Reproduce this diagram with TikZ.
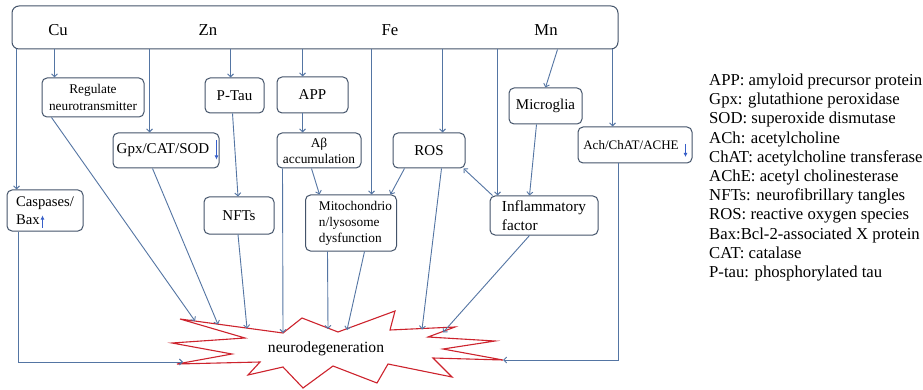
\documentclass[tikz,border=0pt]{standalone}
\usepackage{fontspec}
\setmainfont{Liberation Serif}
\usetikzlibrary{calc,arrows.meta}
\definecolor{conn}{RGB}{84,117,163}
\definecolor{boxc}{RGB}{68,84,106}
\definecolor{starc}{RGB}{205,35,45}
\definecolor{upc}{RGB}{55,95,200}
\begin{document}
\begin{tikzpicture}[x=1pt,y=-1pt,
  box/.style={draw=boxc,line width=1pt,rounded corners=5pt,inner sep=0pt,align=center,font=\fontsize{15}{17}\selectfont},
  sz/.style 2 args={minimum width=#1pt,minimum height=#2pt},
  small/.style={font=\fontsize{13.3}{16.5}\selectfont},
  lab/.style={inner sep=0pt,font=\fontsize{16.7}{19}\selectfont},
  arr/.style={draw=conn,line width=0.9pt,-{Straight Barb[length=3pt,width=6pt]}},
  updown/.style={draw=upc,line width=0.9pt,-{Latex[length=4pt,width=4pt]}},
  legend/.style={anchor=base west,inner sep=0pt,font=\fontsize{16.7}{19}\selectfont}]
\useasboundingbox (0,0) rectangle (923,390);
\fill[white] (0,0) rectangle (923,390);

% top box with metals
\node[box,sz={606}{43},rounded corners=7pt] (top) at (315,27.5) {};
\node[lab] (cu) at (58,30.5) {Cu};
\node[lab] (zn) at (208,30.5) {Zn};
\node[lab] (fe) at (390,30.5) {Fe};
\node[lab] (mn) at (546,30.5) {Mn};

% boxes
\node[box,small,sz={102}{39}] (reg) at (93,97.5) {Regulate\\neurotransmitter};
\node[box,sz={59}{35}] (ptau) at (234.5,95.5) {P-Tau};
\node[box,sz={71}{36}] (app) at (312.5,95) {APP};
\node[box,sz={106}{35}] (gpx) at (166,150.5) {Gpx/CAT/SOD\hspace*{6pt}};
\node[box,small,sz={84}{35},font=\fontsize{13.4}{16}\selectfont] (abeta) at (319,150.5) {Aβ\\accumulation};
\node[box,sz={72}{35}] (ros) at (429,150.5) {ROS};
\node[box,sz={73}{36}] (micro) at (545.5,106) {Microglia};
\node[box,sz={114}{36},font=\fontsize{13}{16}\selectfont] (ach) at (635,145) {Ach/ChAT/ACHE\hspace*{8pt}};
\node[box,sz={76}{41},align=left,font=\fontsize{14.7}{18}\selectfont] (casp) at (45,210.5) {Caspases/\\Bax\hspace*{8pt}};
\node[box,sz={70}{37}] (nfts) at (239,215.5) {NFTs};
\node[box,sz={91}{56},align=left,font=\fontsize{13.3}{16}\selectfont] (mito) at (351,223) {\hspace*{9pt}Mitochondrio\\\hspace*{9pt}n/lysosome\\\hspace*{9pt}dysfunction};
\node[box,sz={108}{39},align=left,font=\fontsize{15.3}{19}\selectfont] (infl) at (544,215.5) {Inflammatory\\factor};

% small blue up/down arrows
\draw[updown] ($(gpx.east)+(-3,-10)$) -- ($(gpx.east)+(-3,9)$);
\draw[updown] ($(ach.east)+(-7,-1)$) -- ($(ach.east)+(-7,12)$);
\draw[updown] ($(casp.south west)+(36,-4)$) -- ($(casp.south west)+(36,-16)$);

% star
\draw[starc,line width=1.1pt,line join=miter]
  (180,319) -- (283,333) -- (302,318) -- (338,332) -- (395,311) -- (390,330)
  -- (455,327) -- (428,337) -- (495,341) -- (443,349) -- (503,360) -- (433,358)
  -- (452,377) -- (388,364) -- (377,383) -- (333,366) -- (303,388) -- (283,367)
  -- (248,375) -- (260,362) -- (177,364) -- (232,354) -- (172,343) -- (245,338) -- cycle;
\node[inner sep=0pt,font=\fontsize{15.6}{18}\selectfont] (nd) at (326,349) {neurodegeneration};

% landing points on the star
\coordinate (sreg) at (195,321);
\coordinate (sgpx) at (218,324.5);
\coordinate (snft) at (247,328.5);
\coordinate (sab) at (283,333);
\coordinate (sm1) at (328,329);
\coordinate (sm2) at (347,330);
\coordinate (sros) at (422,329.5);
\coordinate (sinf) at (443,332.5);
\coordinate (sach) at (503,360);
\coordinate (scasp) at (183,362);

% connectors from the top box
\draw[arr] ($(top.south west)+(5,0)$) -- ($(casp.north west)+(10,0)$);
\draw[arr] ($(top.south west)+(43,0)$) -- ($(reg.north west)+(13,0)$);
\draw[arr] ($(top.south west)+(138,0)$) -- ($(gpx.north west)+(37,0)$);
\draw[arr] ($(top.south west)+(219,0)$) -- ($(ptau.north west)+(26,0)$);
\draw[arr] ($(top.south west)+(291,0)$) -- ($(app.north west)+(26,0)$);
\draw[arr] ($(top.south west)+(360,0)$) -- ($(mito.north west)+(66.5,0)$);
\draw[arr] ($(top.south west)+(431,0)$) -- ($(ros.north west)+(50,0)$);
\draw[arr] ($(top.south west)+(486,0)$) -- ($(infl.north west)+(8,0)$);
\draw[arr] ($(top.south west)+(546,0)$) -- (micro.north);
\draw[arr] ($(top.south west)+(601,0)$) -- ($(ach.north west)+(35,0)$);

% intermediate connectors
\draw[arr] ($(app.south west)+(26,0)$) -- ($(abeta.north west)+(26,0)$);
\draw[arr] ($(ptau.south)+(-2,0)$) -- ($(nfts.north)+(-1,0)$);
\draw[arr] ($(abeta.south west)+(35,0)$) -- ($(mito.north west)+(14.5,0)$);
\draw[arr] ($(ros.south west)+(12,0)$) -- ($(mito.north east)+(-6.5,0)$);
\draw[arr] ($(infl.north west)+(3,0)$) -- ($(ros.south east)+(-2,0)$);
\draw[arr] ($(micro.south west)+(28,0)$) -- ($(infl.north west)+(40,0)$);

% connectors into neurodegeneration
\draw[arr] ($(reg.south west)+(10,0)$) -- (sreg);
\draw[arr] ($(gpx.south west)+(40,0)$) -- (sgpx);
\draw[arr] ($(nfts.south)+(-1,0)$) -- (snft);
\draw[arr] ($(abeta.south west)+(6,0)$) -- (sab);
\draw[arr] ($(mito.south west)+(22.5,0)$) -- (sm1);
\draw[arr] ($(mito.south west)+(59.5,0)$) -- (sm2);
\draw[arr] ($(ros.south west)+(49,0)$) -- (sros);
\draw[arr] ($(infl.south west)+(40,0)$) -- (sinf);
\draw[arr] ($(ach.south west)+(41,0)$) |- (sach);
\draw[arr] ($(casp.south west)+(12,0)$) |- (scasp);

% legend
\foreach \t [count=\i from 0] in {APP: amyloid precursor protein,
  Gpx: glutathione peroxidase,
  SOD: superoxide dismutase,
  ACh: acetylcholine,
  ChAT: acetylcholine transferase,
  AChE: acetyl cholinesterase,
  NFTs: neurofibrillary tangles,
  ROS: reactive oxygen species,
  Bax:Bcl-2-associated X protein,
  CAT: catalase,
  P-tau: phosphorylated tau}
  \node[legend] (leg\i) at (709,85.5+19.2*\i) {\t};
\end{tikzpicture}
\end{document}
